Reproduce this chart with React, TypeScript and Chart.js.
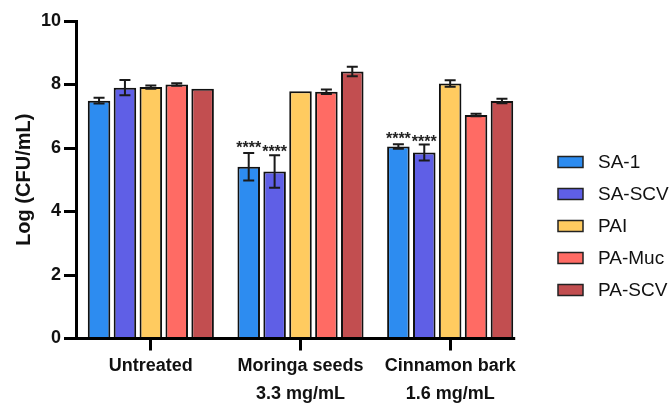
import React, { useEffect, useRef } from "react";
import { Chart, registerables } from "chart.js";

Chart.register(...registerables);

const categories: string[][] = [
  ["Untreated"],
  ["Moringa seeds", "3.3 mg/mL"],
  ["Cinnamon bark", "1.6 mg/mL"],
];

const seriesNames = ["SA-1", "SA-SCV", "PAI", "PA-Muc", "PA-SCV"];
const seriesColors = ["#2D8CF0", "#5F5FE6", "#FFCB60", "#FF6B64", "#C24E50"];

const sa1 = [7.49, 5.41, 6.05];
const saScv = [7.9, 5.26, 5.86];
const pai = [7.92, 7.79, 8.03];
const paMuc = [8.0, 7.77, 7.04];
const paScv = [7.87, 8.41, 7.48];

const sa1Err = [0.09, 0.43, 0.07];
const saScvErr = [0.24, 0.51, 0.25];
const paiErr = [0.05, 0, 0.1];
const paMucErr = [0.04, 0.07, 0.04];
const paScvErr = [0, 0.15, 0.07];

const sa1Sig = ["", "****", "****"];
const saScvSig = ["", "****", "****"];
const emptySig = ["", "", ""];

const yTicks = [0, 2, 4, 6, 8, 10];

const FONT = '"Liberation Sans", Arial, Helvetica, sans-serif';

const seriesValues = [sa1, saScv, pai, paMuc, paScv];
const seriesErrors = [sa1Err, saScvErr, paiErr, paMucErr, paScvErr];
const seriesSig = [sa1Sig, saScvSig, emptySig, emptySig, emptySig];
// vertical gap (px) between error-bar cap and the baseline of the significance stars
const sigGap = [0.5, -2, 0, 0, 0];

const errorBarPlugin = {
  id: "errorBars",
  afterDatasetsDraw(chart: any) {
    const { ctx } = chart;
    const yScale = chart.scales.y;
    ctx.save();
    chart.data.datasets.forEach((ds: any, i: number) => {
      const meta = chart.getDatasetMeta(i);
      const errs = seriesErrors[i];
      const sig = seriesSig[i];
      meta.data.forEach((bar: any, j: number) => {
        const v = ds.data[j];
        const e = errs[j] || 0;
        const x = bar.x;
        const yTop = yScale.getPixelForValue(v + e);
        const yBot = yScale.getPixelForValue(v - e);
        if (e > 0) {
          ctx.strokeStyle = "#1a1a1a";
          ctx.lineWidth = 2;
          ctx.beginPath();
          ctx.moveTo(x, yTop);
          ctx.lineTo(x, yBot);
          ctx.moveTo(x - 5.5, yTop);
          ctx.lineTo(x + 5.5, yTop);
          ctx.moveTo(x - 5.5, yBot);
          ctx.lineTo(x + 5.5, yBot);
          ctx.stroke();
        }
        if (sig[j]) {
          ctx.fillStyle = "#222";
          ctx.font = `bold 16px ${FONT}`;
          ctx.textAlign = "center";
          ctx.textBaseline = "alphabetic";
          ctx.fillText(sig[j], x, yTop - sigGap[i]);
        }
      });
    });
    ctx.restore();
  },
  afterDraw(chart: any) {
    const { ctx, chartArea } = chart;
    const yScale = chart.scales.y;
    const lastMeta = chart.getDatasetMeta(chart.data.datasets.length - 1);
    const lastBar = lastMeta.data[lastMeta.data.length - 1];
    const endX = lastBar.x + lastBar.width / 2 + 2;
    const y0 = yScale.getPixelForValue(0);
    ctx.save();
    ctx.strokeStyle = "#000";
    ctx.lineWidth = 3;
    ctx.beginPath();
    ctx.moveTo(chartArea.left - 1.5, y0);
    ctx.lineTo(endX, y0);
    ctx.stroke();
    ctx.restore();
  },
};

const sideLegendPlugin = {
  id: "sideLegend",
  afterDraw(chart: any) {
    const { ctx, chartArea } = chart;
    ctx.save();
    chart.data.datasets.forEach((ds: any, i: number) => {
      const x = chartArea.right + 33;
      const y = chartArea.top + 141 + i * 32;
      ctx.fillStyle = ds.backgroundColor;
      ctx.fillRect(x, y - 5.5, 25, 11);
      ctx.lineWidth = 1.5;
      ctx.strokeStyle = "#222";
      ctx.strokeRect(x, y - 5.5, 25, 11);
      ctx.font = `19px ${FONT}`;
      ctx.fillStyle = "#111";
      ctx.textAlign = "left";
      ctx.textBaseline = "middle";
      ctx.fillText(ds.label, x + 40, y + 1);
    });
    ctx.restore();
  },
};

export default function App() {
  const canvasRef = useRef<HTMLCanvasElement | null>(null);

  useEffect(() => {
    if (!canvasRef.current) return;
    const chart = new Chart(canvasRef.current, {
      type: "bar",
      data: {
        labels: categories,
        datasets: seriesNames.map((name, i) => ({
          label: name,
          data: seriesValues[i],
          backgroundColor: seriesColors[i],
          borderColor: "#111",
          borderWidth: 2,
          categoryPercentage: 0.865,
          barPercentage: 0.87,
        })),
      },
      options: {
        animation: false,
        responsive: true,
        maintainAspectRatio: false,
        layout: { padding: { top: 21, right: 146, left: 0, bottom: 0 } },
        plugins: {
          legend: { display: false },
          tooltip: { enabled: false },
        },
        scales: {
          x: {
            border: { display: false },
            grid: {
              display: true,
              drawOnChartArea: false,
              offset: false,
              drawTicks: true,
              tickLength: 12,
              tickWidth: 3,
              tickColor: "#000",
            },
            ticks: {
              color: "#111",
              padding: 1,
              maxRotation: 0,
              autoSkip: false,
              font: { family: FONT, size: 18, weight: "bold", lineHeight: 1.58 },
            },
            afterFit: (s: any) => {
              s.height = 64.5;
            },
          },
          y: {
            min: 0,
            max: 10,
            afterBuildTicks: (s: any) => {
              s.ticks = yTicks.map((v) => ({ value: v }));
            },
            border: { display: true, color: "#000", width: 3 },
            grid: {
              display: true,
              drawOnChartArea: false,
              tickLength: 12,
              tickWidth: 3,
              tickColor: "#000",
            },
            ticks: {
              color: "#111",
              padding: 3,
              font: { family: FONT, size: 18, weight: "bold" },
            },
            title: {
              display: true,
              text: "Log (CFU/mL)",
              color: "#111",
              padding: { top: 12, bottom: 0 },
              font: { family: FONT, size: 20, weight: "bold" },
            },
            afterFit: (s: any) => {
              s.width = 76;
            },
          },
        },
      },
      plugins: [errorBarPlugin, sideLegendPlugin],
    });
    return () => chart.destroy();
  }, []);

  return (
    <div style={{ position: "absolute", left: 0, top: 0, width: 671, height: 403, background: "#fff" }}>
      <canvas ref={canvasRef} />
    </div>
  );
}
